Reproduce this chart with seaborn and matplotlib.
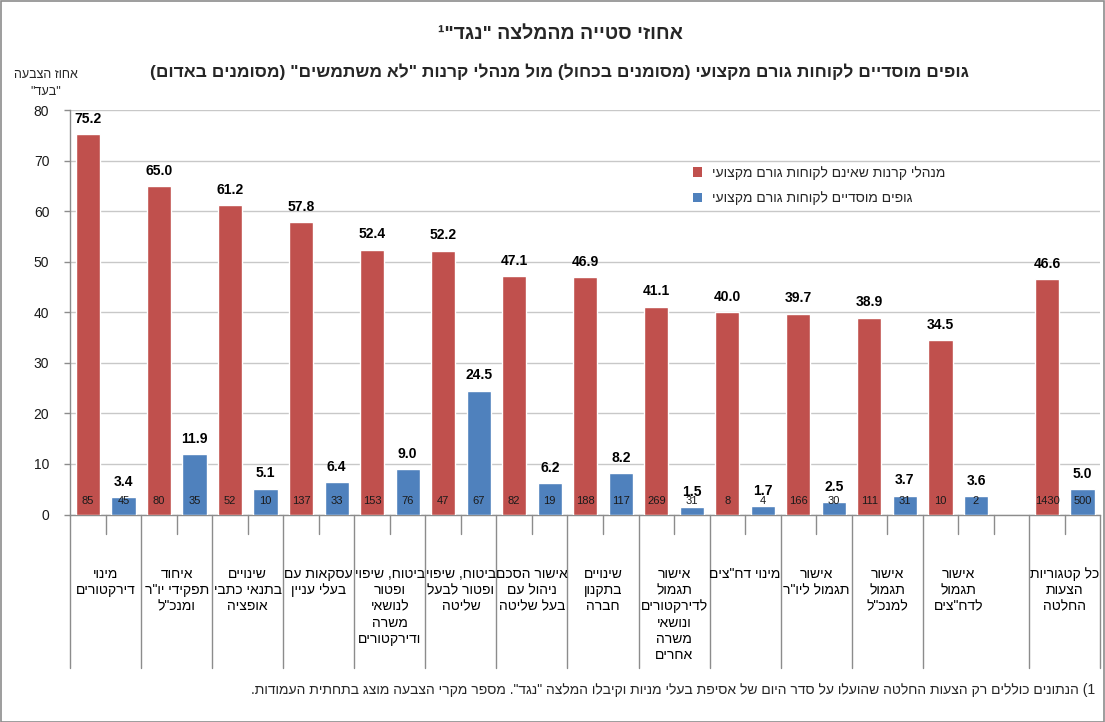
import re
import matplotlib
matplotlib.use("Agg")
import matplotlib.pyplot as plt
from matplotlib.patches import Patch, Rectangle
import matplotlib.transforms as mtransforms
import numpy as np
import pandas as pd
import seaborn as sns

# ---- data -------------------------------------------------------------
categories = [
    ["מינוי", "דירקטורים"],
    ["איחוד", "תפקידי יו\"ר", "ומנכ\"ל"],
    ["שינויים", "בתנאי כתבי", "אופציה"],
    ["עסקאות עם", "בעלי עניין"],
    ["ביטוח, שיפוי", "ופטור", "לנושאי", "משרה", "ודירקטורים"],
    ["ביטוח, שיפוי", "ופטור לבעל", "שליטה"],
    ["אישור הסכם", "ניהול עם", "בעל שליטה"],
    ["שינויים", "בתקנון", "חברה"],
    ["אישור", "תגמול", "לדירקטורים", "ונושאי", "משרה", "אחרים"],
    ["מינוי דח\"צים"],
    ["אישור", "תגמול ליו\"ר"],
    ["אישור", "תגמול", "למנכ\"ל"],
    ["אישור", "תגמול", "לדח\"צים"],
    ["כל קטגוריות", "הצעות", "החלטה"],
]
fund_pct = [75.2, 65.0, 61.2, 57.8, 52.4, 52.2, 47.1, 46.9, 41.1, 40.0, 39.7, 38.9, 34.5, 46.6]
fund_n = [85, 80, 52, 137, 153, 47, 82, 188, 269, 8, 166, 111, 10, 1430]
inst_pct = [3.4, 11.9, 5.1, 6.4, 9.0, 24.5, 6.2, 8.2, 1.5, 1.7, 2.5, 3.7, 3.6, 5.0]
inst_n = [45, 35, 10, 33, 76, 67, 19, 117, 31, 4, 30, 31, 2, 500]

series_fund = "מנהלי קרנות שאינם לקוחות גורם מקצועי"
series_inst = "גופים מוסדיים לקוחות גורם מקצועי"
yticks = [0, 10, 20, 30, 40, 50, 60, 70, 80]

title = "אחוזי סטייה מהמלצה \"נגד\"¹"
subtitle = "גופים מוסדיים לקוחות גורם מקצועי (מסומנים בכחול) מול מנהלי קרנות \"לא משתמשים\" (מסומנים באדום)"
ylabel_lines = ["אחוז הצבעה", "\"בעד\""]
footnote = "1) הנתונים כוללים רק הצעות החלטה שהועלו על סדר היום של אסיפת בעלי מניות וקיבלו המלצה \"נגד\". מספר מקרי הצבעה מוצג בתחתית העמודות."

RED = "#C0504D"
BLUE = "#4F81BD"
GRID = "#C8C8C8"
AXIS = "#8C8C8C"


def rtl(text):
    """Visual (left-to-right) order for a right-to-left line."""
    mirror = {"(": ")", ")": "("}
    tokens = re.findall(r"\d+(?:\.\d+)?|.", text)
    return "".join(mirror.get(t, t) for t in reversed(tokens))


# ---- layout of the category axis: two bar slots per group, one empty slot
# before the summary group ---------------------------------------------
n_groups = len(categories)
group_start = [2 * i for i in range(n_groups - 1)] + [2 * (n_groups - 1) + 1]
n_slots = group_start[-1] + 2

df = pd.DataFrame({
    "slot": [s for s in group_start] + [s + 1 for s in group_start],
    "pct": fund_pct + inst_pct,
    "n": fund_n + inst_n,
    "series": [series_fund] * n_groups + [series_inst] * n_groups,
})

sns.set_theme(style="white")
plt.rcParams["font.family"] = ["Liberation Sans", "DejaVu Sans"]

W, H = 1105, 722
fig = plt.figure(figsize=(W / 100, H / 100), dpi=100)
ax_left, ax_right, ax_top, ax_bottom = 70.2, 1100.3, 110.0, 514.5
ax = fig.add_axes([ax_left / W, 1 - ax_bottom / H,
                   (ax_right - ax_left) / W, (ax_bottom - ax_top) / H])

sns.barplot(data=df, x="slot", y="pct", hue="series",
            palette={series_fund: RED, series_inst: BLUE},
            native_scale=True, dodge=False, width=0.68, saturation=1,
            legend=False, ax=ax, zorder=3)

ax.set_xlim(-0.5, n_slots - 0.5)
ax.set_ylim(0, 80)
ax.set_yticks(yticks)
ax.set_yticklabels([str(t) for t in yticks], fontsize=10, color="#1a1a1a")
ax.set_xticks([])
ax.set_xlabel("")
ax.set_ylabel("")
ax.grid(axis="y", color=GRID, linewidth=1, zorder=0)
ax.set_axisbelow(True)
for side in ("top", "right"):
    ax.spines[side].set_visible(False)
for side in ("left", "bottom"):
    ax.spines[side].set_color(AXIS)
    ax.spines[side].set_linewidth(1)
ax.tick_params(axis="y", left=True, length=4, width=1, color=AXIS, pad=11)

# value labels above bars, counts at the foot of each bar
for _, row in df.iterrows():
    ax.annotate(f"{row.pct:.1f}", (row.slot, row.pct), xytext=(0, 6),
                textcoords="offset points", ha="center", va="bottom",
                fontsize=10, fontweight="bold", color="#000000", zorder=5)
    ax.text(row.slot, 2.6, str(row.n), ha="center", va="center",
            fontsize=8, color="#1a1a1a", zorder=5)

# category dividers below the axis
trans = mtransforms.blended_transform_factory(ax.transData, ax.transAxes)
y_long = -(668 - ax_bottom) / (ax_bottom - ax_top)
y_short = -(534 - ax_bottom) / (ax_bottom - ax_top)
boundaries = sorted(set([s - 0.5 for s in group_start] + [n_slots - 0.5]))
for b in np.arange(-0.5, n_slots, 1.0):
    ybot = y_long if b in boundaries else y_short
    ax.plot([b, b], [0, ybot], transform=trans, color=AXIS, lw=1,
            clip_on=False, zorder=1)

label_top = -(567 - ax_bottom) / (ax_bottom - ax_top)
for start, lines in zip(group_start, categories):
    ax.text(start + 0.5, label_top, "\n".join(rtl(l) for l in lines),
            transform=trans, ha="center", va="top", multialignment="center",
            fontsize=10, linespacing=1.2, color="#000000")

# legend
handles = [Patch(facecolor=RED, edgecolor="none"), Patch(facecolor=BLUE, edgecolor="none")]
fig.legend(handles, [rtl(series_fund), rtl(series_inst)],
           loc="upper left", bbox_to_anchor=(686 / W, 1 - 159 / H),
           frameon=False, fontsize=10, handlelength=0.65, handleheight=0.65,
           handletextpad=0.75, labelspacing=0.8, borderpad=0)

# titles and axis caption
fig.text(560 / W, 1 - 34 / H, rtl(title), ha="center", va="center",
         fontsize=14, fontweight="bold")
fig.text(560 / W, 1 - 72 / H, rtl(subtitle), ha="center", va="center",
         fontsize=12.5, fontweight="bold")
fig.text(46 / W, 1 - 75 / H, rtl(ylabel_lines[0]), ha="center", va="center", fontsize=9)
fig.text(46 / W, 1 - 92 / H, rtl(ylabel_lines[1]), ha="center", va="center", fontsize=9)
fig.text(1095 / W, 1 - 690 / H, rtl(footnote), ha="right", va="center", fontsize=10)

# chart frame
fig.patches.append(Rectangle((0.5 / W, 0.5 / H), 1 - 1.5 / W, 1 - 1.5 / H,
                             transform=fig.transFigure, fill=False,
                             edgecolor="#8C8C8C", lw=1.2))

fig.savefig("out.png", dpi=100)
